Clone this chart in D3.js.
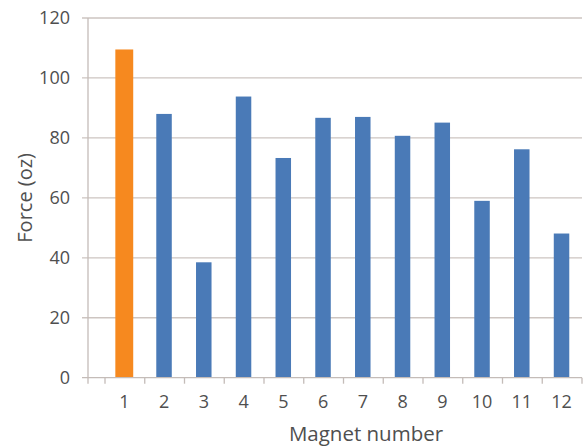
<!DOCTYPE html>
<html>
<head>
<meta charset="utf-8">
<script src="https://cdn.jsdelivr.net/npm/d3@7"></script>
<style>
  html, body { margin: 0; padding: 0; background: #fff; }
  svg text { font-family: "Open Sans", sans-serif; fill: #4f4f4f; }
</style>
</head>
<body>
<div id="chart"></div>
<script>
const magnets = [1, 2, 3, 4, 5, 6, 7, 8, 9, 10, 11, 12];
const force = [109.5, 88, 38.5, 93.8, 73.3, 86.7, 87, 80.7, 85.1, 59, 76.2, 48.1];
const highlight = [1];
const yTicks = [0, 20, 40, 60, 80, 100, 120];

const width = 585;
const height = 447;
const axisLeft = 88;
const margin = {top: 18, right: 3, bottom: 69, left: 105};

const svg = d3.select("#chart")
    .append("svg")
    .attr("width", width)
    .attr("height", height);

// Scales.
const x = d3.scaleLinear().domain([0.5, magnets.length + 0.5]).range([margin.left, width - margin.right]);
const y = d3.scaleLinear().domain([0, 120]).range([height - margin.bottom - 0.3, margin.top]);
const band = x(2) - x(1);

const gridColor = "#cdc5c1";

// Gridlines with outward ticks.
svg.selectAll("line.grid")
    .data(yTicks.filter(d => d > 0))
    .enter()
    .append("line")
    .attr("class", "grid")
    .attr("x1", axisLeft - 6)
    .attr("x2", x(magnets.length + 0.5))
    .attr("y1", d => y(d))
    .attr("y2", d => y(d))
    .attr("stroke", gridColor)
    .attr("stroke-width", 1.3);

// Y tick labels.
svg.selectAll("text.ytick")
    .data(yTicks)
    .enter()
    .append("text")
    .attr("class", "ytick")
    .attr("x", axisLeft - 18)
    .attr("y", d => y(d))
    .attr("dy", "0.35em")
    .attr("text-anchor", "end")
    .attr("font-size", "18px")
    .text(d => d);

// Bars.
svg.selectAll("rect.bar")
    .data(magnets)
    .enter()
    .append("rect")
    .attr("class", "bar")
    .attr("x", (d, i) => {
        const w = highlight.includes(d) ? band * 0.45 : band * 0.39;
        return x(d) - 0.6 - w / 2;
    })
    .attr("y", (d, i) => y(force[i]))
    .attr("width", d => highlight.includes(d) ? band * 0.45 : band * 0.39)
    .attr("height", (d, i) => y(0) - y(force[i]))
    .attr("fill", d => highlight.includes(d) ? "#f6891f" : "#4a7ab7");

// Axes lines.
const axisColor = "#c4bcb8";
svg.append("line")
    .attr("x1", axisLeft).attr("x2", axisLeft)
    .attr("y1", y(120)).attr("y2", y(0) + 6)
    .attr("stroke", axisColor).attr("stroke-width", 1.3);

svg.append("line")
    .attr("x1", axisLeft - 6).attr("x2", x(magnets.length + 0.5))
    .attr("y1", y(0)).attr("y2", y(0))
    .attr("stroke", axisColor).attr("stroke-width", 1.3);

// X ticks between categories.
svg.selectAll("line.xtick")
    .data(d3.range(0.5, magnets.length + 1, 1))
    .enter()
    .append("line")
    .attr("class", "xtick")
    .attr("x1", d => x(d)).attr("x2", d => x(d))
    .attr("y1", y(0)).attr("y2", y(0) + 6)
    .attr("stroke", axisColor).attr("stroke-width", 1.3);

// X tick labels.
svg.selectAll("text.xtick")
    .data(magnets)
    .enter()
    .append("text")
    .attr("class", "xtick")
    .attr("x", d => x(d) - 0.5)
    .attr("y", 402)
    .attr("dy", "0.35em")
    .attr("text-anchor", "middle")
    .attr("font-size", "18px")
    .text(d => d);

// Axis titles.
svg.append("text")
    .attr("x", 366)
    .attr("y", 434)
    .attr("dy", "0.35em")
    .attr("text-anchor", "middle")
    .attr("font-size", "20.5px")
    .text("Magnet number");

svg.append("text")
    .attr("transform", `translate(25,${(y(0) + y(120)) / 2}) rotate(-90)`)
    .attr("dy", "0.35em")
    .attr("text-anchor", "middle")
    .attr("font-size", "20px")
    .text("Force (oz)");
</script>
</body>
</html>
